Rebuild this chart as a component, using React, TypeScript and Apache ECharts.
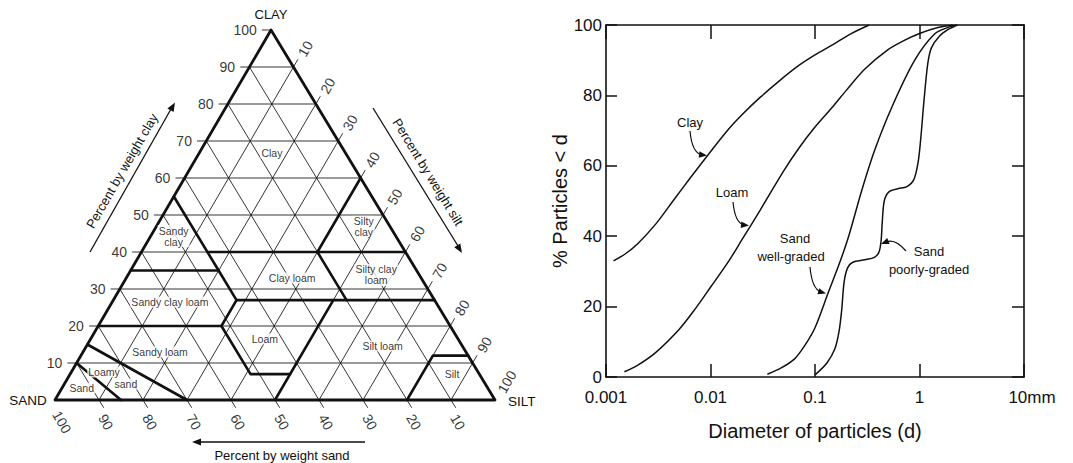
import React, { useEffect, useRef } from "react";
import * as echarts from "echarts";

// ---------- Left: soil texture triangle (points are [clay %, silt %], sand = 100 - clay - silt)
const gridSteps = [10, 20, 30, 40, 50, 60, 70, 80, 90];
const clayTicks = [10, 20, 30, 40, 50, 60, 70, 80, 90, 100];
const siltTicks = [10, 20, 30, 40, 50, 60, 70, 80, 90, 100];
const sandTicks = [100, 90, 80, 70, 60, 50, 40, 30, 20, 10];

const texturePolylines: [number, number][][] = [
  [[55, 0], [35, 20], [27, 28], [20, 28], [7, 41], [7, 50]],
  [[40, 15], [40, 60]],
  [[60, 40], [40, 40], [27, 53]],
  [[27, 28], [27, 73]],
  [[27, 50], [0, 50]],
  [[35, 0], [35, 20]],
  [[20, 0], [20, 28]],
  [[15, 0], [0, 30]],
  [[10, 0], [0, 15]],
  [[12, 88], [12, 80], [0, 80]],
];
const outline: [number, number][] = [[0, 0], [0, 100], [100, 0], [0, 0]];

const regionNames = [
  "Clay", "Silty\nclay", "Sandy\nclay", "Sandy clay loam", "Clay loam", "Silty clay\nloam",
  "Loam", "Silt loam", "Sandy loam", "Loamy", "sand", "Sand", "Silt",
];
const regionAnchors: [number, number][] = [
  [66.8, 16.5], [46.8, 47.2], [44.3, 5.2], [26.5, 13.1], [33, 37.7], [33.8, 56.4],
  [16.5, 39.6], [14.6, 67.3], [13, 17.5], [7.6, 7.4], [4.3, 14.0], [3.2, 4.5], [7.0, 86.8],
];

// ---------- Right: particle size distribution (diameter mm, % finer)
const clayCurve: [number, number][] = [
  [0.00118, 33], [0.0015, 34.8], [0.002, 37.8], [0.003, 43.5], [0.0045, 50.5], [0.0065, 56.8],
  [0.01, 64], [0.015, 70.5], [0.02, 74.5], [0.03, 79.5], [0.045, 84], [0.07, 88.5],
  [0.1, 91.5], [0.15, 94.5], [0.22, 97.5], [0.33, 100],
];
const loamCurve: [number, number][] = [
  [0.0015, 1.5], [0.002, 3.3], [0.003, 7], [0.005, 13.5], [0.007, 19], [0.01, 25.5],
  [0.015, 33], [0.02, 39], [0.03, 47.5], [0.05, 58.5], [0.07, 65], [0.1, 71],
  [0.15, 77], [0.2, 81.5], [0.3, 87.5], [0.5, 93], [0.7, 95.5], [1, 97.6],
  [1.5, 99.3], [2.1, 100],
];
const wellGradedCurve: [number, number][] = [
  [0.035, 0.8], [0.047, 2.5], [0.063, 5], [0.08, 9], [0.1, 14], [0.134, 24], [0.17, 32],
  [0.21, 40], [0.28, 53], [0.373, 64.5], [0.55, 77], [0.9, 90], [1.4, 97.5], [1.9, 99.4],
  [2.3, 100],
];
const poorlyGradedCurve: [number, number][] = [
  [0.1, 0.6], [0.13, 4], [0.155, 8], [0.17, 13], [0.18, 19], [0.19, 27], [0.205, 31],
  [0.23, 32.6], [0.3, 33.3], [0.37, 34], [0.41, 35.5], [0.43, 39], [0.44, 44], [0.46, 50],
  [0.51, 52.6], [0.62, 53.5], [0.75, 54], [0.88, 56], [0.97, 61], [1.03, 68], [1.1, 78],
  [1.2, 89], [1.3, 93.5], [1.55, 96.8], [1.9, 98.8], [2.3, 100],
];
const yTicks = [0, 20, 40, 60, 80, 100];

const INK = "#111";
const FONT = '"Liberation Sans", Arial, Helvetica, sans-serif';
const K = 0.491; // horizontal position of apex within base (as drawn)
const T = 2; // tick extension in percent units

const toXY = (p: [number, number]) => [p[1] + K * p[0], p[0]];

function arrowHead(tx: number, ty: number, dx: number, dy: number, len = 9, half = 3.6) {
  const L = Math.hypot(dx, dy);
  const ux = dx / L, uy = dy / L;
  const bx = tx - ux * len, by = ty - uy * len;
  return {
    type: "polygon",
    silent: true,
    shape: { points: [[tx, ty], [bx - uy * half, by + ux * half], [bx + uy * half, by - ux * half]] },
    style: { fill: INK },
  };
}
function txt(text: string, x: number, y: number, size: number, rotDeg = 0, align = "center") {
  return {
    type: "text", x, y, rotation: (rotDeg * Math.PI) / 180, silent: true,
    style: { text, fontSize: size, fontFamily: FONT, fill: INK, align, verticalAlign: "middle" },
  };
}
function seg(x1: number, y1: number, x2: number, y2: number, w = 1.3) {
  return { type: "line", silent: true, shape: { x1, y1, x2, y2 }, style: { stroke: INK, lineWidth: w } };
}
function curve(x1: number, y1: number, cx: number, cy: number, x2: number, y2: number) {
  return {
    type: "bezierCurve", silent: true,
    shape: { x1, y1, cpx1: cx, cpy1: cy, x2, y2 },
    style: { stroke: INK, lineWidth: 1.2, fill: "none" },
  };
}

export default function App() {
  const ref = useRef<HTMLDivElement>(null);
  useEffect(() => {
    if (!ref.current) return;
    const chart = echarts.init(ref.current, undefined, { renderer: "svg" });

    const gridSegs: [number, number][][] = [];
    gridSteps.forEach((c) => gridSegs.push([[c, -T], [c, 100 - c]]));
    gridSegs.push([[100, -T], [100, 0]]);
    gridSteps.forEach((t) => gridSegs.push([[0, t], [100 - t + T, t]]));
    gridSteps.forEach((s) => gridSegs.push([[-T, 100 - s + T], [100 - s, 0]]));

    const ternLines = (data: [number, number][][], width: number) => ({
      type: "lines",
      coordinateSystem: "cartesian2d",
      xAxisIndex: 0,
      yAxisIndex: 0,
      polyline: true,
      silent: true,
      clip: false,
      data: data.map((pts) => ({ coords: pts.map(toXY) })),
      lineStyle: { color: INK, width, opacity: 1, cap: "round", join: "round" },
    });

    const labelScatter = (items: { value: number[]; name: string }[], label: any) => ({
      type: "scatter",
      xAxisIndex: 0,
      yAxisIndex: 0,
      symbolSize: 1,
      clip: false,
      silent: true,
      itemStyle: { color: "rgba(0,0,0,0)" },
      data: items,
      label: { show: true, formatter: "{b}", color: "#000", fontFamily: FONT, ...label },
    });

    const curveSeries = (data: [number, number][]) => ({
      type: "line",
      xAxisIndex: 1,
      yAxisIndex: 1,
      data,
      showSymbol: false,
      smooth: 0.3,
      silent: true,
      lineStyle: { color: INK, width: 1.5 },
    });

    const axisLine = { show: true, onZero: false, lineStyle: { color: INK, width: 1.6 } };
    const tickStyle = { color: INK, width: 1.5 };
    const fmt = (v: number) => {
      const s = String(Number(v.toPrecision(3)));
      return v === 10 ? "{u|10mm}" : s;
    };

    const option: any = {
      animation: false,
      backgroundColor: "#fff",
      grid: [
        { left: 55, top: 30, width: 440, height: 370 },
        { left: 606, top: 25, width: 418, height: 352 },
      ],
      xAxis: [
        { gridIndex: 0, type: "value", min: 0, max: 100, show: false },
        {
          gridIndex: 1, type: "log", logBase: 10, min: 0.001, max: 10, position: "bottom",
          axisLine, axisTick: { show: true, inside: true, length: 13, lineStyle: tickStyle },
          minorTick: { show: false }, splitLine: { show: false },
          axisLabel: {
            formatter: fmt, margin: 12, fontSize: 17, fontFamily: FONT, color: INK,
            rich: { u: { fontSize: 17, fontFamily: FONT, color: INK, padding: [0, 0, 0, 16] } },
          },
          name: "Diameter of particles (d)", nameLocation: "middle", nameGap: 44,
          nameTextStyle: { fontSize: 20, fontFamily: FONT, color: INK },
        },
        {
          gridIndex: 1, type: "log", logBase: 10, min: 0.001, max: 10, position: "top",
          axisLine, axisTick: { show: true, inside: true, length: 14, lineStyle: tickStyle },
          minorTick: { show: false }, splitLine: { show: false }, axisLabel: { show: false },
        },
      ],
      yAxis: [
        { gridIndex: 0, type: "value", min: 0, max: 100, show: false },
        {
          gridIndex: 1, type: "value", min: yTicks[0], max: yTicks[yTicks.length - 1], interval: 20,
          axisLine, axisTick: { show: true, inside: true, length: 11, lineStyle: tickStyle },
          splitLine: { show: false },
          axisLabel: { margin: 4, fontSize: 17, fontFamily: FONT, color: INK },
          name: "% Particles < d", nameLocation: "middle", nameGap: 31,
          nameTextStyle: { fontSize: 20, fontFamily: FONT, color: INK },
        },
        {
          gridIndex: 1, type: "value", min: 0, max: 100, interval: 20, position: "right",
          axisLine, axisTick: { show: true, inside: true, length: 12, lineStyle: tickStyle },
          splitLine: { show: false }, axisLabel: { show: false },
        },
      ],
      series: [
        ternLines(gridSegs, 0.85),
        ternLines(texturePolylines, 2.6),
        ternLines([outline], 2.8),
        labelScatter(
          clayTicks.map((c) => ({ value: toXY([c, -T]), name: String(c) })),
          { position: "left", distance: 5, fontSize: 14 }
        ),
        labelScatter(
          siltTicks.map((t) => ({ value: toXY([100 - t + 4.9, t + 0.3]), name: String(t) })),
          { position: "inside", rotate: 60, fontSize: 14, align: "center", verticalAlign: "middle" }
        ),
        labelScatter(
          sandTicks.map((s) => ({ value: toXY([-5.95, 100 - s + 4.5]), name: String(s) })),
          { position: "inside", rotate: -60, fontSize: 14, align: "center", verticalAlign: "middle" }
        ),
        labelScatter(
          regionNames.map((n, i) => ({ value: toXY(regionAnchors[i]), name: n })),
          {
            position: "inside", fontSize: 10.5, lineHeight: 11, align: "center", verticalAlign: "middle",
            backgroundColor: "#fff", padding: [0, 1],
          }
        ),
        curveSeries(clayCurve),
        curveSeries(loamCurve),
        curveSeries(wellGradedCurve),
        curveSeries(poorlyGradedCurve),
      ],
      graphic: [
        txt("CLAY", 271, 14, 13),
        txt("SAND", 28, 400, 13.5),
        txt("SILT", 508, 401, 13.5, 0, "left"),
        txt("Percent by weight clay", 122, 171, 13, 60),
        seg(90, 252, 171, 109),
        arrowHead(175, 102.5, 0.5, -0.866),
        txt("Percent by weight silt", 428, 172, 13, -58.5),
        seg(373, 108, 458, 246),
        arrowHead(462, 253, 0.526, 0.851),
        txt("Percent by weight sand", 282, 455, 13),
        seg(365, 442, 198, 442),
        arrowHead(192, 442, -1, 0),
        txt("Clay", 690, 122, 13),
        curve(690, 131, 692, 153, 702, 155),
        arrowHead(707, 155.5, 1, 0.12, 8, 3.2),
        txt("Loam", 732, 192, 13),
        curve(733, 202, 735, 223, 744, 225),
        arrowHead(749, 225.5, 1, 0.1, 8, 3.2),
        txt("Sand", 795, 238, 13),
        txt("well-graded", 791, 256, 13),
        curve(810, 267, 812, 289, 821, 292),
        arrowHead(826, 293.5, 1, 0.3, 8, 3.2),
        txt("Sand", 929, 251, 13),
        txt("poorly-graded", 929, 269, 13),
        curve(906, 251, 895, 238, 886, 242),
        arrowHead(881, 244, -1, 0.4, 8, 3.2),
      ],
    };
    chart.setOption(option);
    return () => chart.dispose();
  }, []);
  return (
    <div
      ref={ref}
      style={{ position: "absolute", left: 0, top: 0, width: 1073, height: 463, background: "#fff" }}
    />
  );
}
